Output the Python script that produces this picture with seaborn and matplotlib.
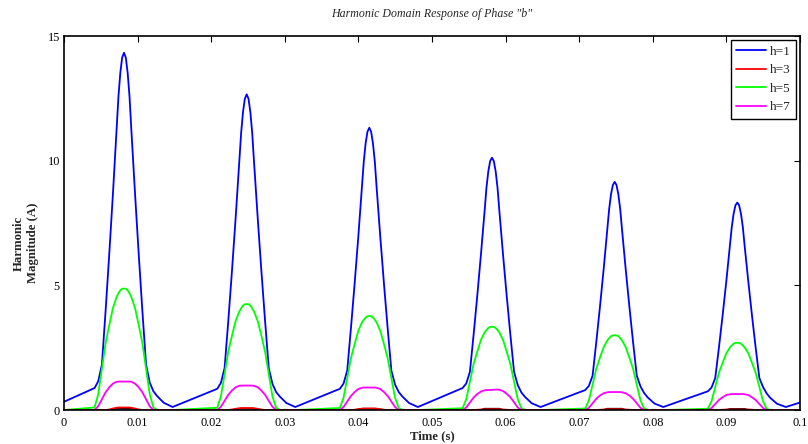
import matplotlib
matplotlib.use("Agg")
import matplotlib.pyplot as plt
import pandas as pd
import seaborn as sns

# time axis [s]: start, six pulses (one every 1/60 s), end
time_s = [0.0,
    0.00415, 0.00465, 0.00515, 0.00565, 0.00615, 0.00665, 0.00715, 0.0074, 0.00765, 0.0079, 0.00815, 0.0084,
    0.00865, 0.0089, 0.00915, 0.00965, 0.01015, 0.01065, 0.01115, 0.01165, 0.01215, 0.01265, 0.01355, 0.01475,
    0.02082, 0.02132, 0.02182, 0.02232, 0.02282, 0.02332, 0.02382, 0.02407, 0.02432, 0.02457, 0.02482, 0.02507,
    0.02532, 0.02557, 0.02582, 0.02632, 0.02682, 0.02732, 0.02782, 0.02832, 0.02882, 0.02932, 0.03022, 0.03142,
    0.03748, 0.03798, 0.03848, 0.03898, 0.03948, 0.03998, 0.04048, 0.04073, 0.04098, 0.04123, 0.04148, 0.04173,
    0.04198, 0.04223, 0.04248, 0.04298, 0.04348, 0.04398, 0.04448, 0.04498, 0.04548, 0.04598, 0.04688, 0.04808,
    0.05415, 0.05465, 0.05515, 0.05565, 0.05615, 0.05665, 0.05715, 0.0574, 0.05765, 0.0579, 0.05815, 0.0584,
    0.05865, 0.0589, 0.05915, 0.05965, 0.06015, 0.06065, 0.06115, 0.06165, 0.06215, 0.06265, 0.06355, 0.06475,
    0.07082, 0.07132, 0.07182, 0.07232, 0.07282, 0.07332, 0.07382, 0.07407, 0.07432, 0.07457, 0.07482, 0.07507,
    0.07532, 0.07557, 0.07582, 0.07632, 0.07682, 0.07732, 0.07782, 0.07832, 0.07882, 0.07932, 0.08022, 0.08142,
    0.08748, 0.08798, 0.08848, 0.08898, 0.08948, 0.08998, 0.09048, 0.09073, 0.09098, 0.09123, 0.09148, 0.09173,
    0.09198, 0.09223, 0.09248, 0.09298, 0.09348, 0.09398, 0.09448, 0.09498, 0.09548, 0.09598, 0.09688, 0.09808,
    0.1]

h1 = [0.33,
    0.88, 1.15, 1.82, 3.97, 6.26, 8.68, 11.24, 12.58, 13.52, 14.13, 14.33, 14.13,
    13.52, 12.58, 11.24, 8.68, 6.26, 3.97, 1.82, 1.10, 0.75, 0.56, 0.29, 0.12,
    0.85, 1.09, 1.68, 3.57, 5.57, 7.70, 9.94, 11.12, 11.95, 12.48, 12.66, 12.48,
    11.95, 11.12, 9.94, 7.70, 5.57, 3.57, 1.68, 1.05, 0.72, 0.54, 0.28, 0.12,
    0.85, 1.06, 1.58, 3.26, 5.04, 6.92, 8.91, 9.96, 10.69, 11.16, 11.32, 11.16,
    10.69, 9.96, 8.91, 6.92, 5.04, 3.26, 1.58, 1.02, 0.72, 0.54, 0.28, 0.12,
    0.88, 1.06, 1.53, 3.01, 4.58, 6.24, 7.99, 8.92, 9.57, 9.98, 10.12, 9.98,
    9.57, 8.92, 7.99, 6.24, 4.58, 3.01, 1.53, 1.00, 0.70, 0.52, 0.27, 0.12,
    0.80, 0.97, 1.38, 2.72, 4.14, 5.64, 7.23, 8.06, 8.65, 9.02, 9.15, 9.02,
    8.65, 8.06, 7.23, 5.64, 4.14, 2.72, 1.38, 0.95, 0.68, 0.50, 0.26, 0.12,
    0.75, 0.90, 1.28, 2.49, 3.78, 5.14, 6.58, 7.34, 7.87, 8.21, 8.32, 8.21,
    7.87, 7.34, 6.58, 5.14, 3.78, 2.49, 1.28, 0.92, 0.66, 0.48, 0.25, 0.12,
    0.30]

h3 = [0.0,
    0, 0, 0, 0, 0.02, 0.06, 0.09, 0.10, 0.10, 0.10, 0.10, 0.10,
    0.10, 0.10, 0.09, 0.06, 0.02, 0, 0, 0, 0, 0, 0, 0,
    0, 0, 0, 0, 0.02, 0.05, 0.07, 0.08, 0.08, 0.08, 0.08, 0.08,
    0.08, 0.08, 0.07, 0.05, 0.02, 0, 0, 0, 0, 0, 0, 0,
    0, 0, 0, 0, 0.01, 0.04, 0.05, 0.06, 0.06, 0.06, 0.06, 0.06,
    0.06, 0.06, 0.05, 0.04, 0.01, 0, 0, 0, 0, 0, 0, 0,
    0, 0, 0, 0, 0.01, 0.02, 0.03, 0.03, 0.03, 0.03, 0.03, 0.03,
    0.03, 0.03, 0.03, 0.02, 0.01, 0, 0, 0, 0, 0, 0, 0,
    0, 0, 0, 0, 0.01, 0.02, 0.03, 0.03, 0.03, 0.03, 0.03, 0.03,
    0.03, 0.03, 0.03, 0.02, 0.01, 0, 0, 0, 0, 0, 0, 0,
    0, 0, 0, 0, 0.01, 0.02, 0.02, 0.02, 0.02, 0.02, 0.02, 0.02,
    0.02, 0.02, 0.02, 0.02, 0.01, 0, 0, 0, 0, 0, 0, 0,
    0.0]

h5 = [0.0,
    0.10, 0.63, 1.66, 2.68, 3.41, 4.09, 4.53, 4.68, 4.80, 4.86, 4.87, 4.86,
    4.80, 4.68, 4.53, 4.09, 3.41, 2.68, 1.66, 0.63, 0.10, 0, 0, 0,
    0.09, 0.55, 1.45, 2.34, 2.98, 3.57, 3.95, 4.08, 4.19, 4.24, 4.25, 4.24,
    4.19, 4.08, 3.95, 3.57, 2.98, 2.34, 1.45, 0.55, 0.09, 0, 0, 0,
    0.08, 0.49, 1.28, 2.07, 2.64, 3.17, 3.51, 3.62, 3.71, 3.76, 3.77, 3.76,
    3.71, 3.62, 3.51, 3.17, 2.64, 2.07, 1.28, 0.49, 0.08, 0, 0, 0,
    0.07, 0.43, 1.14, 1.84, 2.34, 2.81, 3.11, 3.21, 3.29, 3.33, 3.34, 3.33,
    3.29, 3.21, 3.11, 2.81, 2.34, 1.84, 1.14, 0.43, 0.07, 0, 0, 0,
    0.06, 0.39, 1.02, 1.65, 2.10, 2.52, 2.79, 2.88, 2.96, 2.99, 3.00, 2.99,
    2.96, 2.88, 2.79, 2.52, 2.10, 1.65, 1.02, 0.39, 0.06, 0, 0, 0,
    0.05, 0.35, 0.92, 1.49, 1.89, 2.27, 2.51, 2.59, 2.66, 2.69, 2.70, 2.69,
    2.66, 2.59, 2.51, 2.27, 1.89, 1.49, 0.92, 0.35, 0.05, 0, 0, 0,
    0.0]

h7 = [0.0,
    0, 0.15, 0.43, 0.71, 0.91, 1.06, 1.13, 1.14, 1.14, 1.14, 1.14, 1.14,
    1.14, 1.14, 1.13, 1.06, 0.91, 0.71, 0.43, 0.15, 0, 0, 0, 0,
    0, 0.13, 0.37, 0.61, 0.78, 0.91, 0.97, 0.98, 0.98, 0.98, 0.98, 0.98,
    0.98, 0.98, 0.97, 0.91, 0.78, 0.61, 0.37, 0.13, 0, 0, 0, 0,
    0, 0.12, 0.34, 0.56, 0.72, 0.84, 0.89, 0.90, 0.90, 0.90, 0.90, 0.90,
    0.90, 0.90, 0.89, 0.84, 0.72, 0.56, 0.34, 0.12, 0, 0, 0, 0,
    0, 0.10, 0.30, 0.50, 0.64, 0.74, 0.79, 0.80, 0.80, 0.80, 0.81, 0.81,
    0.82, 0.82, 0.81, 0.76, 0.65, 0.51, 0.31, 0.10, 0, 0, 0, 0,
    0, 0.09, 0.27, 0.45, 0.58, 0.67, 0.71, 0.72, 0.72, 0.72, 0.72, 0.72,
    0.72, 0.72, 0.71, 0.67, 0.58, 0.45, 0.27, 0.09, 0, 0, 0, 0,
    0, 0.08, 0.24, 0.40, 0.51, 0.60, 0.63, 0.64, 0.64, 0.64, 0.64, 0.64,
    0.64, 0.64, 0.63, 0.60, 0.51, 0.40, 0.24, 0.08, 0, 0, 0, 0,
    0.0]

# small unlabeled trace that peeks out under h=3
h9 = [0.0,
    0, 0, 0, 0, 0, 0, 0.05, 0.05, 0.05, 0.05, 0.05, 0.05,
    0.05, 0.05, 0.05, 0, 0, 0, 0, 0, 0, 0, 0, 0,
    0, 0, 0, 0, 0, 0, 0.05, 0.05, 0.05, 0.05, 0.05, 0.05,
    0.05, 0.05, 0.05, 0, 0, 0, 0, 0, 0, 0, 0, 0,
    0, 0, 0, 0, 0, 0, 0.05, 0.05, 0.05, 0.05, 0.05, 0.05,
    0.05, 0.05, 0.05, 0, 0, 0, 0, 0, 0, 0, 0, 0,
    0, 0, 0, 0, 0, 0, 0.05, 0.05, 0.05, 0.05, 0.05, 0.05,
    0.05, 0.05, 0.05, 0, 0, 0, 0, 0, 0, 0, 0, 0,
    0, 0, 0, 0, 0, 0, 0.05, 0.05, 0.05, 0.05, 0.05, 0.05,
    0.05, 0.05, 0.05, 0, 0, 0, 0, 0, 0, 0, 0, 0,
    0, 0, 0, 0, 0, 0, 0.04, 0.04, 0.04, 0.04, 0.04, 0.04,
    0.04, 0.04, 0.04, 0, 0, 0, 0, 0, 0, 0, 0, 0,
    0.0]

x_ticks = [0, 0.01, 0.02, 0.03, 0.04, 0.05, 0.06, 0.07, 0.08, 0.09, 0.1]
x_labels = ["0", "0.01", "0.02", "0.03", "0.04", "0.05", "0.06", "0.07", "0.08", "0.09", "0.1"]
y_ticks = [0, 5, 10, 15]
legend_labels = ["h=1", "h=3", "h=5", "h=7"]

df = pd.DataFrame({"t": time_s, "h=1": h1, "h=3": h3, "h=5": h5, "h=7": h7, "h=9": h9})

sns.set_style("white")
plt.rcParams["font.family"] = ["Liberation Serif", "DejaVu Serif"]
plt.rcParams["font.size"] = 8.8

fig = plt.figure(figsize=(8.08, 4.44), dpi=100)
ax = fig.add_axes([64/808, 1-410/444, 736/808, 374/444])

lw = 1.3
handles = {}
# drawing order: red ends up on top at the zero line
for name, col in [("h=1", "#0000ff"), ("h=5", "#00ff00"), ("h=7", "#ff00ff"),
                  ("h=9", "#000000"), ("h=3", "#ff0000")]:
    sns.lineplot(data=df, x="t", y=name, ax=ax, color=col, linewidth=lw,
                 estimator=None, sort=False)
    handles[name] = ax.get_lines()[-1]

ax.set_xlim(0, 0.1)
ax.set_ylim(0, 15)
ax.set_xticks(x_ticks)
ax.set_xticklabels(x_labels)
ax.set_yticks(y_ticks)
ax.set_xlabel("")
ax.set_ylabel("")
for s in ax.spines.values():
    s.set_visible(True)
    s.set_color("black")
    s.set_linewidth(1.2)
ax.tick_params(direction="in", length=4.5, width=0.8, top=True, right=True,
               labelsize=8.8, colors="black")
ax.tick_params(axis="x", pad=5)
ax.tick_params(axis="y", pad=3)

leg = ax.legend([handles[k] for k in legend_labels], legend_labels,
                loc="upper right", bbox_to_anchor=(0.995, 0.988), borderaxespad=0,
                fancybox=False, framealpha=1, edgecolor="black",
                handlelength=2.3, labelspacing=0.47, handletextpad=0.3,
                borderpad=0.4, fontsize=9.5)
leg.get_frame().set_linewidth(1.0)

fig.text(432/808, 1-14/444, 'Harmonic Domain Response of Phase "b"',
         ha="center", va="center", style="italic", fontsize=8.6)
fig.text(432/808, 1-436/444, "Time (s)", ha="center", va="center",
         fontweight="bold", fontsize=9.2)
fig.text(26/808, 1-243/444, "Harmonic\nMagnitude (A)", rotation=90,
         ha="center", va="center", multialignment="center",
         fontweight="bold", fontsize=9.2, linespacing=1.2)

fig.savefig("out.png", dpi=100)
